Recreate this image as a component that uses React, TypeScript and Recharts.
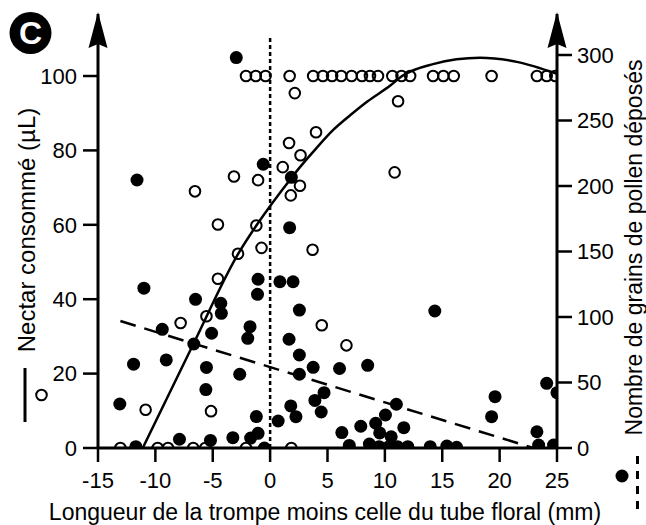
import React from "react";
import {
  ComposedChart,
  XAxis,
  YAxis,
  Scatter,
  Line,
  ReferenceLine,
  ReferenceDot,
} from "recharts";

const FONT = "'Liberation Sans', Arial, Helvetica, sans-serif";

// x = longueur de la trompe moins celle du tube floral (mm)
const xTicks = [-15, -10, -5, 0, 5, 10, 15, 20, 25];
const nectarTicks = [0, 20, 40, 60, 80, 100];
const pollenTicks = [0, 50, 100, 150, 200, 250, 300];

// nectar consommé (open circles, left axis)
const nectarFullX = [
  -2.1, -1.25, -0.4, 1.7, 3.75, 4.6, 5.4, 6.2, 7.1, 8.0, 8.7, 9.4, 10.65,
  11.45, 12.2, 14.2, 15.1, 16.0, 19.3, 23.25, 24.1, 24.85,
];
const nectarZeroX = [-13.05, -9.8, -8.9, -6.7, -5.65, -2.1, 1.85];
const nectarOther: [number, number][] = [
  [2.15, 95.4], [11.15, 93.2], [4.0, 84.9], [1.65, 82], [2.65, 78.7],
  [1.1, 75.5], [-1.05, 72], [-3.15, 73], [2.6, 70.5], [1.8, 67.9],
  [10.85, 74.1], [-6.55, 69], [-4.55, 60.1], [-1.2, 59.8], [-0.75, 53.8],
  [3.7, 53.3], [-2.8, 52.2], [-4.55, 45.5], [-5.55, 35.4], [-7.8, 33.6],
  [-10.85, 10.3], [-5.15, 9.9], [4.5, 33], [6.65, 27.6],
];

// grains de pollen déposés (filled circles, right axis)
const pollenPts: [number, number][] = [
  [-2.95, 298], [-11.6, 204.6], [-0.6, 216.6], [1.85, 206.6], [1.7, 168.2],
  [-11.0, 122], [-6.5, 113.5], [-4.3, 110.5], [-4.25, 102.8], [-9.4, 90.6],
  [-5.1, 87.6], [-6.65, 79.4], [-11.9, 64], [-9.05, 67.2], [-5.55, 61.5],
  [-2.65, 56.3], [-5.6, 44.6], [-13.1, 33.6], [-7.9, 6.7], [-5.2, 5.8],
  [-3.25, 7.9], [-11.7, 1], [-1.05, 128.8], [-1.1, 117.3], [-1.75, 92.6],
  [-1.95, 83.7], [-1.2, 24], [-1.05, 11.2], [-1.7, 7.6], [-0.5, 0],
  [0.85, 126.9], [2.0, 126.9], [2.55, 105.3], [1.65, 83], [2.55, 71],
  [2.55, 56.3], [3.75, 61.6], [1.8, 32.1], [2.25, 23.9], [0.7, 20.6],
  [4.7, 42.2], [3.9, 36.3], [4.45, 27.5], [6.05, 60.7], [8.5, 63.1],
  [6.25, 11.8], [6.9, 2], [7.9, 16.6], [8.65, 3], [9.2, 18.9],
  [9.55, 11.5], [9.5, 1], [10.05, 25.2], [10.55, 8.6], [11.0, 33.4],
  [10.35, 1], [11.1, 1], [11.65, 15.5], [12.0, 1], [13.95, 1],
  [15.4, 1.5], [16.25, 0.5], [14.35, 104.6], [19.3, 23.9], [19.6, 39.2],
  [23.25, 12.4], [23.4, 2.3], [24.1, 49.4], [24.7, 2.3], [25.0, 42.2],
];

// fitted curves
const nectarFit: [number, number][] = [
  [-11.1, 0], [-6.7, 27.9], [-2.8, 52.1], [-1.2, 59.8], [1.7, 72],
  [2.6, 75.5], [4, 80.5], [5.5, 85.5], [7, 89.5], [8.5, 93.2],
  [10.5, 97.5], [11.5, 100], [14.2, 103.2], [18.3, 104.9], [21.5, 103.8],
  [25, 100.6],
];
const pollenFit: [number, number][] = [[-13.05, 96.9], [22.95, 0]];

const NECTAR_MAX = 116.67;
const POLLEN_MAX = 331.3;

const toXY = (pts: [number, number][]) => pts.map(([x, y]) => ({ x, y }));
const nectarData = [
  ...nectarFullX.map((x) => ({ x, y: 100 })),
  ...nectarZeroX.map((x) => ({ x, y: 0 })),
  ...toXY(nectarOther),
];
const pollenData = toXY(pollenPts);

const OpenDot = (p: any) => (
  <circle cx={p.cx} cy={p.cy} r={5.3} fill="none" stroke="#000" strokeWidth={2} />
);
const FilledDot = (p: any) => <circle cx={p.cx} cy={p.cy} r={6.5} fill="#000" />;
const Arrow = (p: any) => (
  <path
    d={`M${p.cx},${p.cy - 2} L${p.cx + 9.5},${p.cy + 34} L${p.cx},${p.cy + 30} L${p.cx - 9.5},${p.cy + 34} Z`}
    fill="#000"
  />
);

const tickStyle = { fontSize: 22, fill: "#000", fontFamily: FONT };
const lineStyle = { stroke: "#000", strokeWidth: 2.5 };
const axisStyle = { stroke: "#000", strokeWidth: 3 };

export default function App() {
  return (
    <div
      style={{
        position: "absolute",
        left: 0,
        top: 0,
        width: 646,
        height: 525,
        background: "#fff",
        fontFamily: FONT,
      }}
    >
      <ComposedChart
        width={646}
        height={525}
        margin={{ top: 14, right: 19, bottom: 32, left: 28 }}
      >
        <XAxis
          type="number"
          dataKey="x"
          domain={[-15, 25]}
          ticks={xTicks}
          allowDataOverflow
          height={45}
          tickSize={14}
          tickMargin={10}
          tick={tickStyle}
          tickLine={lineStyle}
          axisLine={axisStyle}
        />
        <YAxis
          yAxisId="left"
          type="number"
          dataKey="y"
          domain={[0, NECTAR_MAX]}
          ticks={nectarTicks}
          allowDataOverflow
          width={70}
          tickSize={15}
          tickMargin={6}
          tick={tickStyle}
          tickLine={lineStyle}
          axisLine={axisStyle}
        />
        <YAxis
          yAxisId="right"
          orientation="right"
          type="number"
          dataKey="y"
          domain={[0, POLLEN_MAX]}
          ticks={pollenTicks}
          allowDataOverflow
          width={70}
          tickSize={15}
          tickMargin={5}
          tick={tickStyle}
          tickLine={lineStyle}
          axisLine={axisStyle}
        />
        <ReferenceLine
          yAxisId="left"
          segment={[{ x: 0, y: 0 }, { x: 0, y: 110.5 }]}
          stroke="#000"
          strokeWidth={2.5}
          strokeDasharray="4 3"
        />
        <Line
          yAxisId="left"
          data={toXY(nectarFit)}
          dataKey="y"
          type="monotone"
          stroke="#000"
          strokeWidth={2.5}
          dot={false}
          activeDot={false}
          isAnimationActive={false}
        />
        <Line
          yAxisId="right"
          data={toXY(pollenFit)}
          dataKey="y"
          type="linear"
          stroke="#000"
          strokeWidth={2.5}
          strokeDasharray="16 9"
          dot={false}
          activeDot={false}
          isAnimationActive={false}
        />
        <Scatter
          yAxisId="right"
          data={pollenData}
          dataKey="y"
          shape={FilledDot}
          isAnimationActive={false}
        />
        <Scatter
          yAxisId="left"
          data={nectarData}
          dataKey="y"
          shape={OpenDot}
          isAnimationActive={false}
        />
        <ReferenceDot
          yAxisId="left"
          x={-15}
          y={NECTAR_MAX}
          ifOverflow="visible"
          shape={Arrow}
        />
        <ReferenceDot
          yAxisId="right"
          x={25}
          y={POLLEN_MAX}
          ifOverflow="visible"
          shape={Arrow}
        />
      </ComposedChart>

      <svg
        width={646}
        height={525}
        style={{ position: "absolute", left: 0, top: 0, pointerEvents: "none" }}
      >
        <circle cx={30.5} cy={33} r={21} fill="#000" />
        <text x={30.5} y={44} textAnchor="middle" fontSize={32} fontWeight="bold" fill="#fff" fontFamily={FONT}>
          C
        </text>
        <text transform="translate(35,230) rotate(-90)" textAnchor="middle" fontSize={24} fill="#000" fontFamily={FONT}>
          Nectar consommé (µL)
        </text>
        <line x1={25} y1={368} x2={25} y2={422} stroke="#000" strokeWidth={3} />
        <circle cx={41.5} cy={395} r={5.3} fill="none" stroke="#000" strokeWidth={2} />
        <text transform="translate(642,247.5) rotate(-90)" textAnchor="middle" fontSize={23} fill="#000" fontFamily={FONT}>
          Nombre de grains de pollen déposés
        </text>
        <circle cx={622} cy={476} r={6.5} fill="#000" />
        <line x1={637.5} y1={456} x2={637.5} y2={512} stroke="#000" strokeWidth={3} strokeDasharray="8 7" />
        <text x={325} y={520} textAnchor="middle" fontSize={23} fill="#000" fontFamily={FONT}>
          Longueur de la trompe moins celle du tube floral (mm)
        </text>
      </svg>
    </div>
  );
}
